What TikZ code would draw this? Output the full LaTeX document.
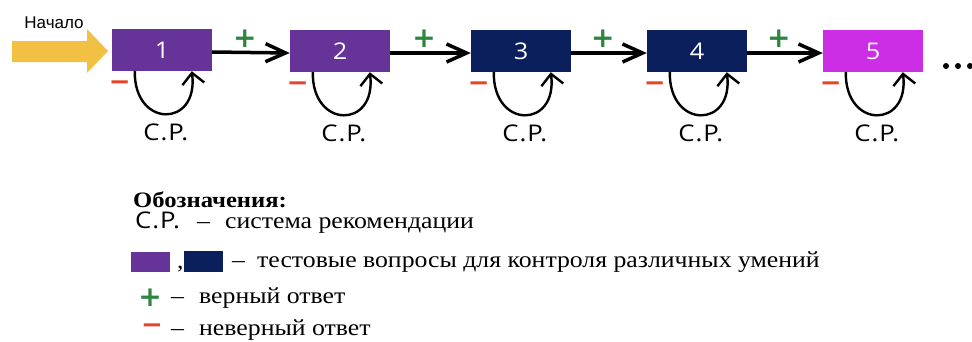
\documentclass[tikz,border=0pt]{standalone}
\usepackage{fontspec}
\setmainfont{Liberation Serif}
\newfontfamily\legf[FakeStretch=1.12]{Liberation Serif}
\newfontfamily\arialf{Liberation Sans}
\newfontfamily\handf[FakeStretch=1.12,LetterSpace=4]{Open Sans}
\newfontfamily\digf[FakeStretch=1.1]{Open Sans}
\newfontfamily\symf{DejaVu Sans}
\usetikzlibrary{arrows.meta}
\definecolor{qpurple}{HTML}{663399}
\definecolor{qnavy}{HTML}{0B1F5C}
\definecolor{qmagenta}{HTML}{CC2EE6}
\definecolor{qyellow}{HTML}{F2C043}
\definecolor{qgreen}{HTML}{2E8540}
\definecolor{qred}{HTML}{E8412C}
\tikzset{
  qbox/.style={minimum width=100pt, minimum height=42pt, inner sep=0pt, text=white,
     font=\digf\fontsize{23}{23}\selectfont},
  qarrow/.style={line width=3.5pt, -{Straight Barb[length=20pt,width=18pt,line width=3.5pt]}},
  qloop/.style={line width=2.4pt, -{Straight Barb[length=11pt,width=22pt,line width=2.4pt]}},
  qplus/.style={text=qgreen, font=\symf\bfseries\fontsize{28}{28}\selectfont, inner sep=0pt},
  qminus/.style={text=qred, font=\symf\bfseries\fontsize{26}{26}\selectfont, inner sep=0pt},
  qcp/.style={font=\handf\fontsize{23}{23}\selectfont, inner sep=0pt},
  qtxt/.style={font=\legf\fontsize{23}{23}\selectfont, inner sep=0pt, anchor=base west},
}
\begin{document}
\begin{tikzpicture}[x=1pt,y=-1pt]
\useasboundingbox (0,0) rectangle (972,341);
% start arrow
\fill[qyellow] (12,41) -- (87,41) -- (87,29) -- (108,51) -- (87,73) -- (87,62) -- (12,62) -- cycle;
\node[font=\arialf\fontsize{17}{17}\selectfont, inner sep=0pt, anchor=base] (start) at (54,28) {Начало};
% boxes
\node[qbox, fill=qpurple] (b1) at (162,50) {\raisebox{-4pt}{1}};
\node[qbox, fill=qpurple] (b2) at (340,51) {\raisebox{-4pt}{2}};
\node[qbox, fill=qnavy] (b3) at (521,51) {\raisebox{-4pt}{3}};
\node[qbox, fill=qnavy] (b4) at (697,51) {\raisebox{-4pt}{4}};
\node[qbox, fill=qmagenta] (b5) at (873,51) {\raisebox{-4pt}{5}};
% forward arrows
\foreach \a/\b in {b1/b2,b2/b3,b3/b4,b4/b5}{
  \draw[qarrow] ([yshift=-2pt]\a.east) -- node[qplus, pos=0.42, yshift=14pt] {+} ([yshift=-2pt]\b.west);
}
% loops
\foreach \i in {1,...,5}{
  \coordinate (l\i) at ([xshift=23pt]b\i.south west);
  \coordinate (r\i) at ([xshift=80pt]b\i.south west);
  \draw[qloop] (l\i) .. controls ([xshift=-1pt,yshift=-57pt]l\i) and ([xshift=7pt,yshift=-57pt]r\i) .. (r\i);
  \node[qminus] (m\i) at ([xshift=8pt,yshift=-14pt]b\i.south west) {−};
  \node[qcp] (cp\i) at ([xshift=54pt,yshift=-61pt]b\i.south west) {С.Р.};
}
% dots
\foreach \x [count=\k] in {946,958,970}{
  \fill (\x,66) circle (3pt);
}
% legend
\node[qtxt, font=\legf\bfseries\fontsize{22}{22}\selectfont] (lt) at (133,207) {Обозначения:};
\node[qcp, anchor=base west] (lcp) at (135,228) {С.Р.};
\node[qtxt] (d1) at (197,228) {–};
\node[qtxt] (l1) at (225,228) {система рекомендации};
\fill[qpurple] (131,252) rectangle (170,272);
\node[qtxt] (comma) at (177,268) {,};
\fill[qnavy] (184,251) rectangle (223,272);
\node[qtxt] (d2) at (232,267) {–};
\node[qtxt] (l2) at (257,267) {тестовые вопросы для контроля различных умений};
\node[qplus] (lp) at (150,298) {+};
\node[qtxt] (d3) at (171,303) {–};
\node[qtxt] (l3) at (199,303) {верный ответ};
\node[qminus] (lm) at (152,329) {−};
\node[qtxt] (d4) at (171,335) {–};
\node[qtxt] (l4) at (199,335) {неверный ответ};
\end{tikzpicture}
\end{document}
